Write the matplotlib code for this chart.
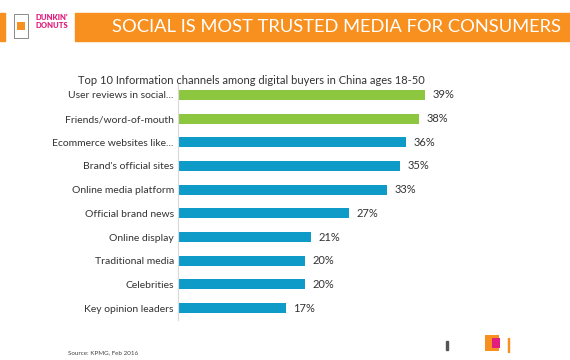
import matplotlib.pyplot as plt
from matplotlib.patches import Rectangle

categories = ["User reviews in social...", "Friends/word-of-mouth", "Ecommerce websites like...",
              "Brand's official sites", "Online media platform", "Official brand news",
              "Online display", "Traditional media", "Celebrities", "Key opinion leaders"]
values = [39, 38, 36, 35, 33, 27, 21, 20, 20, 17]
bar_colors = ["#8DC63F", "#8DC63F"] + ["#0E9BC8"] * 8

plt.rcParams['font.family'] = ['Lato', 'DejaVu Sans']

W, H = 570, 360
fig = plt.figure(figsize=(W / 100, H / 100), dpi=100)


def px(x, y):
    # pixel (from top-left) to figure coords
    return x / W, 1 - y / H


# header banner
fig.patches.append(Rectangle(px(75, 41), 495 / W, 28 / H, transform=fig.transFigure,
                             color="#F7901E", zorder=0))
fig.patches.append(Rectangle(px(0, 41), 5 / W, 28 / H, transform=fig.transFigure,
                             color="#F7901E", zorder=0))
fig.text(*px(337, 27), "SOCIAL IS MOST TRUSTED MEDIA FOR CONSUMERS", color="white",
         fontsize=13.2, ha="center", va="center")
# logo
fig.text(*px(52, 17), "DUNKIN'", color="#E21F7F", fontsize=5.5, fontweight="heavy",
         ha="center", va="center")
fig.text(*px(52, 25), "DONUTS", color="#E21F7F", fontsize=5.5, fontweight="heavy",
         ha="center", va="center")
fig.patches.append(Rectangle(px(14, 38), 14 / W, 24 / H, transform=fig.transFigure,
                             facecolor="white", edgecolor="#777777", lw=0.6))
fig.patches.append(Rectangle(px(17, 30), 8 / W, 8 / H, transform=fig.transFigure,
                             facecolor="#F7901E", edgecolor="none"))

fig.text(*px(78, 80), "Top 10 Information channels among digital buyers in China ages 18-50",
         color="#333333", fontsize=8, ha="left", va="center")

ax = fig.add_axes([178 / W, 1 - 320 / H, 300 / W, 237 / H])
y = range(len(categories))
ax.barh(y, values, height=0.42, color=bar_colors)
for i, v in enumerate(values):
    ax.text(v + 1.2, i, f"{v}%", va="center", ha="left", fontsize=8, color="#333333")
ax.set_ylim(9.5, -0.5)
ax.set_xlim(0, 300 / 6.33)
ax.set_yticks(list(y))
ax.set_yticklabels(categories, fontsize=7.5, color="#333333")
ax.tick_params(axis="y", length=0, pad=3)
ax.set_xticks([])
for s in ["top", "right", "bottom"]:
    ax.spines[s].set_visible(False)
ax.spines["left"].set_color("#D9D9D9")
ax.spines["left"].set_linestyle((0, (1, 1)))
ax.spines["left"].set_linewidth(0.8)

fig.text(*px(68, 353), "Source: KPMG, Feb 2016", color="#444444", fontsize=4.5,
         ha="left", va="center")
fig.patches.append(Rectangle(px(446, 350), 2 / W, 9 / H, transform=fig.transFigure,
                             color="#555555"))
fig.patches.append(Rectangle(px(485, 351), 14 / W, 16 / H, transform=fig.transFigure,
                             facecolor="#F7901E", edgecolor="none"))
fig.patches.append(Rectangle(px(492, 348), 8 / W, 10 / H, transform=fig.transFigure,
                             facecolor="#E21F7F", edgecolor="none"))
fig.patches.append(Rectangle(px(508, 352), 1 / W, 14 / H, transform=fig.transFigure,
                             color="#F7901E"))

fig.savefig("out.png", dpi=100)
